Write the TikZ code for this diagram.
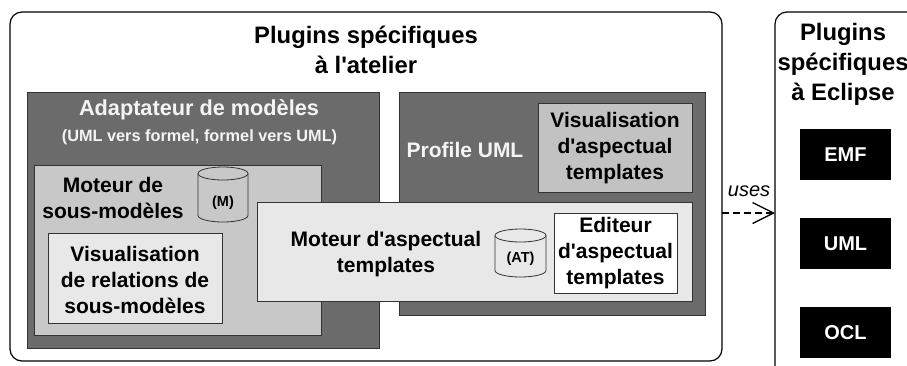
\documentclass[tikz,border=0pt]{standalone}
\usepackage{fontspec}
\setmainfont{Liberation Sans}
\usetikzlibrary{arrows.meta}
\definecolor{darkg}{HTML}{6B6B6B}
\definecolor{midg}{HTML}{C8C8C8}
\definecolor{midg2}{HTML}{C2C2C2}
\definecolor{lightg}{HTML}{E8E8E8}
\definecolor{edge}{HTML}{333333}
\definecolor{wtext}{HTML}{F4F4F4}
\newcommand{\ap}{\textquotesingle}
\begin{document}
\begin{tikzpicture}[x=1pt,y=-1pt,
  box/.style={draw=edge, line width=0.8pt, anchor=north west, inner sep=0pt, outer sep=0pt},
  plug/.style={draw=black, line width=1.2pt, rounded corners=12pt, anchor=north west, inner sep=0pt, outer sep=0pt},
  blk/.style={fill=black, anchor=north west, inner sep=0pt, outer sep=0pt, minimum width=91pt, minimum height=51pt,
     text=white, font=\bfseries\fontsize{20}{24}\selectfont},
  txt/.style={font=\bfseries\fontsize{21}{26}\selectfont, align=center, inner sep=0pt},
  title/.style={font=\bfseries\fontsize{23.8}{30}\selectfont, align=center, inner sep=0pt},
  cylline/.style={draw=edge, line width=0.8pt},
  small/.style={font=\bfseries\fontsize{14.5}{17}\selectfont, inner sep=0pt},
]
\clip (0,0) rectangle (907,365);
\fill[white] (0,0) rectangle (907,365);

% outer containers
\node[plug, minimum width=712pt, minimum height=349pt] (atelier) at (10,12) {};
\node[plug, minimum width=160pt, minimum height=400pt] (eclipse) at (775,12) {};
\node[title] (tatelier) at (366,50) {Plugins spécifiques\\à l\ap atelier};
\node[title] (teclipse) at (843,64) {Plugins\\spécifiques\\à Eclipse};

% adaptateur
\node[box, fill=darkg, minimum width=352pt, minimum height=256pt] (adapt) at (27,92) {};
\node[txt, font=\bfseries\fontsize{21.7}{26}\selectfont, text=wtext] (tadapt) at (199,110) {Adaptateur de modèles};
\node[small, font=\bfseries\fontsize{16.3}{19}\selectfont, text=wtext] (tadapt2) at (199.5,137) {(UML vers formel, formel vers UML)};

\node[box, fill=midg, minimum width=287pt, minimum height=170pt] (msm) at (34,165) {};
\node[txt] (tmsm) at (113,198) {Moteur de\\sous-modèles};
% cylinder M
\coordinate (cylm) at (223,194.5);
\fill[midg] (198,173.5) -- (198,215.5) arc[start angle=180, end angle=0, x radius=25, y radius=6.5] -- (248,173.5) -- cycle;
\draw[cylline] (198,173.5) -- (198,215.5) arc[start angle=180, end angle=0, x radius=25, y radius=6.5] -- (248,173.5);
\draw[cylline, fill=midg] (223,173.5) ellipse[x radius=25, y radius=6.5];
\node[small] (tcylm) at (223,203) {(M)};
\node[box, fill=lightg, minimum width=174pt, minimum height=90pt] (visrel) at (48,233) {};
\node[txt] (tvisrel) at (135,280) {Visualisation\\de relations de\\sous-modèles};

% profile
\node[box, fill=darkg, minimum width=306pt, minimum height=223pt] (profile) at (399,92) {};
\node[txt, text=wtext] (tprofile) at (465,150) {Profile UML};
\node[box, fill=midg2, minimum width=154pt, minimum height=89pt] (visat) at (538,103) {};
\node[txt] (tvisat) at (615,148) {Visualisation\\d\ap aspectual\\templates};

% moteur AT
\node[box, fill=lightg, minimum width=435pt, minimum height=99pt] (mat) at (257,202) {};
\node[txt] (tmat) at (386,254) {Moteur d\ap aspectual\\templates};
% cylinder AT
\coordinate (cylat) at (520.5,253);
\fill[lightg] (495,235.5) -- (495,270.5) arc[start angle=180, end angle=0, x radius=25.5, y radius=6.5] -- (546,235.5) -- cycle;
\draw[cylline] (495,235.5) -- (495,270.5) arc[start angle=180, end angle=0, x radius=25.5, y radius=6.5] -- (546,235.5);
\draw[cylline, fill=lightg] (520.5,235.5) ellipse[x radius=25.5, y radius=6.5];
\node[small] (tcylat) at (520.5,259) {(AT)};
\node[box, fill=white, minimum width=123pt, minimum height=80pt] (edit) at (554,213) {};
\node[txt] (tedit) at (615.5,253) {Editeur\\d\ap aspectual\\templates};

% eclipse plugins
\node[blk] (emf) at (800,129) {EMF};
\node[blk] (uml) at (800,218) {UML};
\node[blk] (ocl) at (800,307) {OCL};

% uses
\coordinate (ay) at (0,213);
\draw[line width=1.1pt, dash pattern=on 7pt off 4pt,
  -{Straight Barb[length=21pt,width=21pt,line width=1.3pt]}]
  (atelier.east |- ay) -- (eclipse.west |- ay);
\node[font=\itshape\fontsize{20}{24}\selectfont, inner sep=0pt] (uses) at (749,191) {uses};
\end{tikzpicture}
\end{document}
